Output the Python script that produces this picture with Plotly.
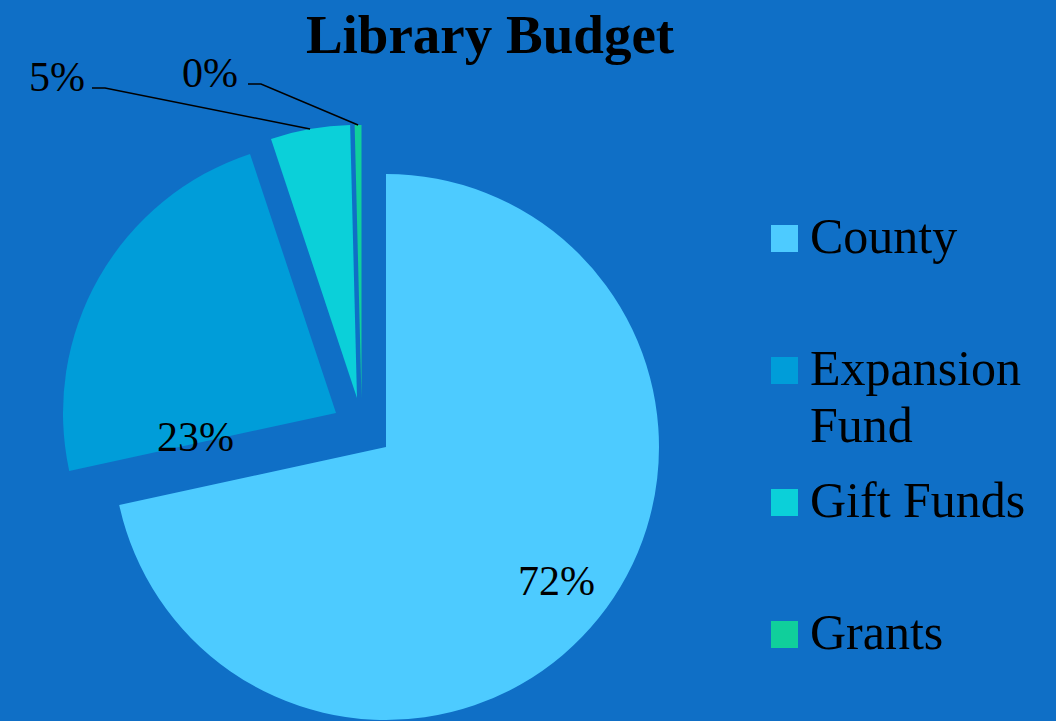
import math
import textwrap
import plotly.graph_objects as go

# data
labels = ["County", "Expansion Fund", "Gift Funds", "Grants"]
values = [71.6, 23.3, 4.7, 0.4]
colors = ["#4DCBFF", "#009DD9", "#0BD0D9", "#10CF9B"]

W, H = 1056, 721
R = 273
FONT = "Liberation Serif"
BG = "#0F6FC6"

# apex of every (exploded) slice, in pixels
apex = [(386, 447), (336, 413), (357, 398), (361.5, 398)]
# where the percentage labels sit (pixels)
label_pos = [(556, 581), (195, 437), (57, 77), (210, 73)]
# leader lines for the small slices start here (pixels)
leader_start = {2: (92, 88), 3: (248, 84)}


def px(x):
    return x / W


def py(y):
    return 1 - y / H


total = sum(values)
fig = go.Figure()

## one pie per slice so every slice can be pushed out on its own
for i, (cx, cy) in enumerate(apex):
    cols = [c if j == i else "rgba(0,0,0,0)" for j, c in enumerate(colors)]
    fig.add_trace(go.Pie(
        labels=labels, values=values, sort=False,
        direction="clockwise", rotation=0,
        marker=dict(colors=cols, line=dict(width=0)),
        textinfo="none", showlegend=False,
        domain=dict(x=[(cx - R) / W, (cx + R) / W],
                    y=[(H - cy - R) / H, (H - cy + R) / H]),
    ))

## percentage labels + leader lines
shapes = []
annotations = []
start = 0
for i, v in enumerate(values):
    mid = math.radians((start + v / 2) / total * 360)
    start += v
    lx, ly = label_pos[i]
    annotations.append(dict(
        x=px(lx), y=py(ly), xref="paper", yref="paper",
        xanchor="center", yanchor="middle",
        text=f"{v / total:.0%}", showarrow=False,
        font=dict(family=FONT, size=42, color="black"),
    ))
    if i in leader_start:
        sx, sy = leader_start[i]
        ex = apex[i][0] + R * math.sin(mid)
        ey = apex[i][1] - R * math.cos(mid)
        shapes.append(dict(
            type="path", xref="paper", yref="paper",
            path=f"M {px(sx)} {py(sy)} L {px(sx + 13)} {py(sy)} L {px(ex)} {py(ey)}",
            line=dict(color="black", width=1.5),
        ))

## legend drawn by hand (big squares)
for i, (lab, col) in enumerate(zip(labels, colors)):
    yc = 238.5 + i * 132
    shapes.append(dict(
        type="rect", xref="paper", yref="paper",
        x0=px(771), x1=px(798), y0=py(yc - 13.5), y1=py(yc + 13.5),
        fillcolor=col, line=dict(width=0),
    ))
    for k, line in enumerate(textwrap.wrap(lab, 10)):
        annotations.append(dict(
            x=px(808), y=py(yc - 3 + k * 58), xref="paper", yref="paper",
            xanchor="left", yanchor="middle",
            text=line, showarrow=False,
            font=dict(family=FONT, size=50, color="black"),
        ))

fig.update_layout(
    width=W, height=H,
    paper_bgcolor=BG, plot_bgcolor=BG,
    margin=dict(l=0, r=0, t=0, b=0),
    title=dict(text="Library Budget", x=490 / W, y=py(14),
               xanchor="center", yanchor="top",
               font=dict(family=FONT, size=55, color="black", weight="bold")),
    shapes=shapes,
    annotations=annotations,
)

fig.write_html("out.html", config={"displayModeBar": False},
               post_script="document.body.style.margin='0';")
